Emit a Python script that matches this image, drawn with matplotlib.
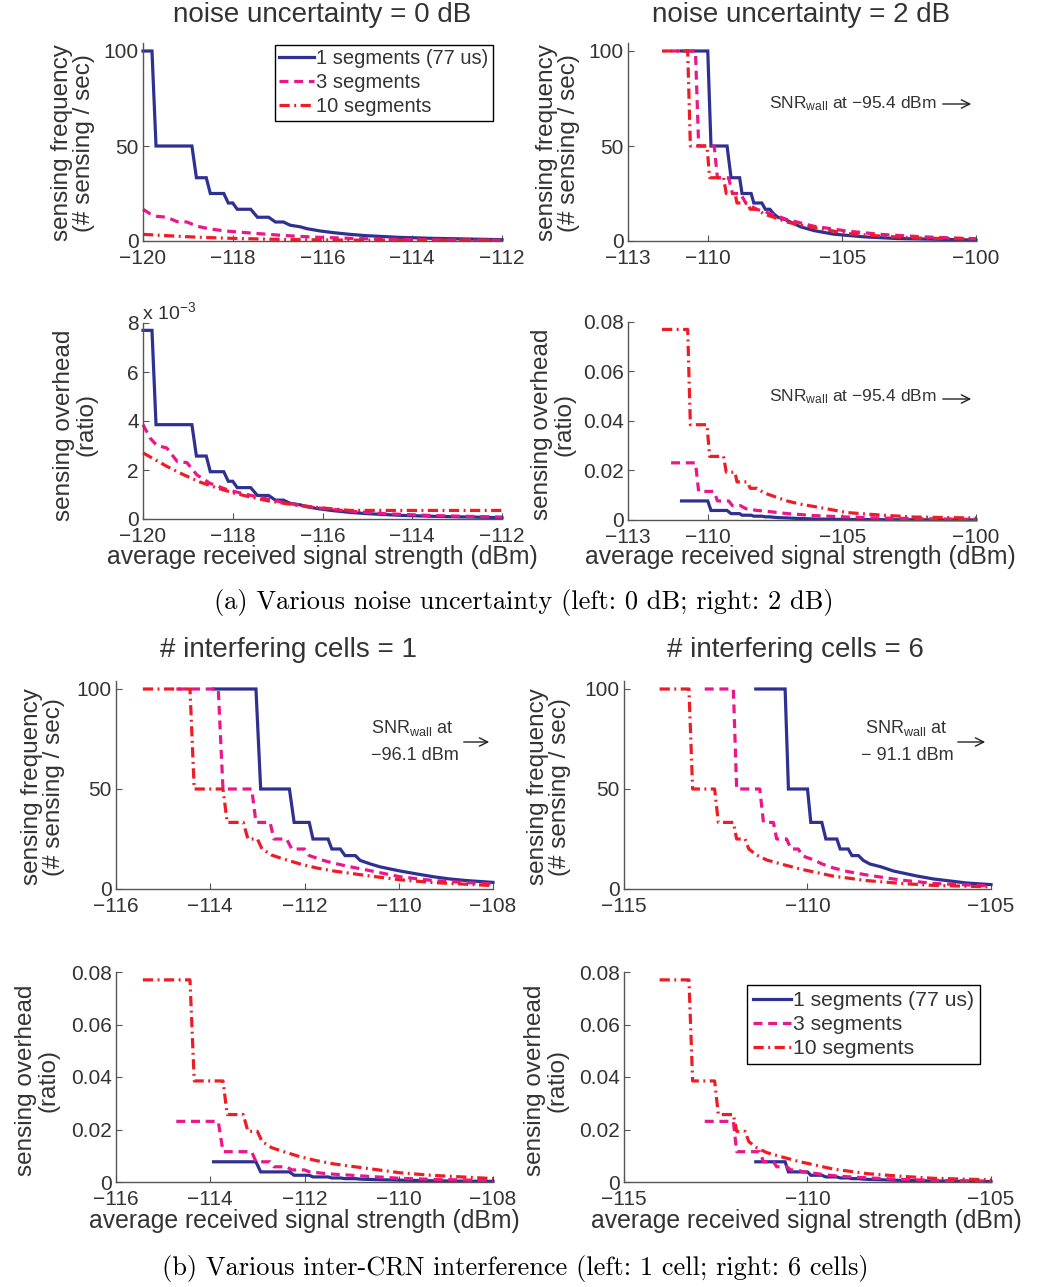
import matplotlib
matplotlib.use("Agg")
import matplotlib.pyplot as plt
from matplotlib.ticker import FixedLocator, FuncFormatter

# ---------------- data ----------------
series_labels = ["1 segments (77 us)", "3 segments", "10 segments"]

# (a) noise uncertainty = 0 dB
nu0_x_blue = [-120, -119.8, -119.71, -118.91, -118.81, -118.59, -118.5, -118.2, -118.1, -118.0,
              -117.9, -117.6, -117.45, -117.2, -117.05, -116.87, -116.72, -116.5, -116.35,
              -116.06, -115.76, -115.39, -115.02, -114.28, -113.54, -112]
nu0_freq_blue = [100, 100, 50, 50, 33.3, 33.3, 25, 25, 20, 20, 16.7, 16.7, 12.5, 12.5, 10, 10,
                 8.3, 7.5, 6.5, 5.3, 4.4, 3.5, 2.8, 1.9, 1.4, 0.7]
nu0_oh_blue_e3 = [7.7, 7.7, 3.85, 3.85, 2.57, 2.57, 1.93, 1.93, 1.54, 1.54, 1.28, 1.28, 0.96, 0.96,
                  0.77, 0.77, 0.64, 0.58, 0.5, 0.41, 0.34, 0.27, 0.22, 0.15, 0.11, 0.054]
nu0_x_pink = [-120, -119.84, -119.69, -119.47, -119.24, -119.02, -118.8, -118.5, -118.13, -117.76,
              -117.24, -116.87, -116.13, -115.39, -114.65, -113.54, -112]
nu0_freq_pink = [16.7, 14.3, 13.0, 12.5, 10.2, 10.0, 7.8, 6.3, 5.2, 4.5, 3.55, 2.9, 2.0, 1.4,
                 0.95, 0.6, 0.35]
nu0_oh_pink_e3 = [3.85, 3.3, 3.0, 2.9, 2.35, 2.3, 1.8, 1.45, 1.2, 1.03, 0.82, 0.67, 0.46, 0.32,
                  0.22, 0.14, 0.08]
nu0_x_red = [-120, -119.47, -119.1, -118.72, -118.35, -117.98, -117.61, -117.24, -116.5, -115.76,
             -115.39, -112]
nu0_freq_red = [3.5, 2.8, 2.35, 1.95, 1.65, 1.38, 1.17, 0.97, 0.7, 0.53, 0.46, 0.46]
nu0_oh_red_e3 = [2.7, 2.15, 1.81, 1.5, 1.27, 1.06, 0.9, 0.75, 0.54, 0.41, 0.35, 0.35]

# (a) noise uncertainty = 2 dB
nu2_x_blue = [-111.0, -110.02, -109.9, -109.3, -109.15, -108.83, -108.74, -108.4, -108.3, -108.0,
              -107.87, -107.7, -107.56, -107.4, -107.1, -106.56, -106.06, -105.32, -104.2,
              -102.95, -100]
nu2_freq_blue = [100, 100, 50, 50, 33.3, 33.3, 25, 25, 20, 20, 16.7, 16.7, 14.3, 12.5, 11.1, 7.5,
                 5.5, 3.6, 2.2, 1.3, 0.5]
nu2_oh_blue = [0.0077, 0.0077, 0.00385, 0.00385, 0.00257, 0.00257, 0.00193, 0.00193, 0.00154,
               0.00154, 0.00128, 0.00128, 0.0011, 0.00096, 0.00085, 0.00058, 0.00042, 0.00028,
               0.00017, 0.0001, 0.00004]
nu2_x_pink = [-111.39, -110.48, -110.36, -109.78, -109.66, -109.24, -109.1, -108.8, -108.6,
              -108.2, -107.8, -107.06, -106.06, -104.8, -103.57, -102, -100]
nu2_freq_pink = [100, 100, 50, 50, 33.3, 33.3, 25, 25, 20, 16.7, 15, 11.3, 7.8, 5.2, 3.5, 2.2, 1.2]
nu2_oh_pink = [0.0231, 0.0231, 0.01155, 0.01155, 0.0077, 0.0077, 0.0058, 0.0058, 0.0046, 0.0039,
               0.0035, 0.0026, 0.0018, 0.0012, 0.0008, 0.0005, 0.0003]
nu2_x_red = [-111.73, -110.77, -110.67, -110.05, -109.95, -109.43, -109.33, -109.0, -108.93,
             -108.55, -108.43, -108.18, -107.93, -107.56, -107.06, -106.56, -105.81, -104.82,
             -103.57, -102.33, -100]
nu2_freq_red = [100, 100, 50, 50, 33.3, 33.3, 25, 25, 20, 20, 16.7, 16.7, 14.3, 12.5, 10, 8.3,
                6.5, 3.9, 2.6, 1.6, 1.0]
nu2_oh_red = [0.077, 0.077, 0.0385, 0.0385, 0.0257, 0.0257, 0.0193, 0.0193, 0.0154, 0.0154,
              0.0128, 0.0128, 0.011, 0.0096, 0.0077, 0.0064, 0.005, 0.003, 0.002, 0.0012, 0.0008]

# (b) 1 interfering cell
c1_x_blue = [-113.93, -113.03, -112.93, -112.32, -112.22, -111.9, -111.82, -111.5, -111.42,
             -111.24, -111.14, -110.92, -110.82, -110.6, -110.4, -110.18, -109.97, -109.61,
             -109.26, -108.91, -108.55, -108.0]
c1_freq_blue = [100, 100, 50, 50, 33.3, 33.3, 25, 25, 20, 20, 16.7, 16.7, 14.3, 12.5, 11.1, 10, 9,
                7.5, 6.1, 5.0, 4.2, 3.3]
c1_oh_blue = [0.0077, 0.0077, 0.00385, 0.00385, 0.00257, 0.00257, 0.00193, 0.00193, 0.00154,
              0.00154, 0.00128, 0.00128, 0.0011, 0.00096, 0.00085, 0.00077, 0.00069, 0.00058,
              0.00047, 0.00039, 0.00032, 0.00025]
c1_x_pink = [-114.72, -113.83, -113.73, -113.12, -113.03, -112.73, -112.65, -112.38, -112.27,
             -112.0, -111.9, -111.6, -111.4, -111.03, -110.68, -109.97, -109.26, -108.55, -108.0]
c1_freq_pink = [100, 100, 50, 50, 33.3, 33.3, 25, 25, 20, 20, 16.7, 14.3, 13.0, 11.1, 9.5, 6.1,
                4.2, 3.2, 2.5]
c1_oh_pink = [0.0231, 0.0231, 0.01155, 0.01155, 0.0077, 0.0077, 0.0058, 0.0058, 0.0046, 0.0046,
              0.0039, 0.0033, 0.003, 0.0026, 0.0022, 0.0014, 0.001, 0.00074, 0.00058]
c1_x_red = [-115.43, -114.43, -114.34, -113.73, -113.64, -113.3, -113.2, -113.0, -112.9, -112.7,
            -112.45, -112.09, -111.74, -111.38, -110.68, -109.97, -109.26, -108.0]
c1_freq_red = [100, 100, 50, 50, 33.3, 33.3, 25, 25, 20, 17, 15, 12.5, 10.5, 9.0, 6.7, 4.6, 3.2,
               1.7]
c1_oh_red = [0.077, 0.077, 0.0385, 0.0385, 0.0257, 0.0257, 0.0193, 0.0193, 0.0154, 0.0131, 0.0116,
             0.0096, 0.0081, 0.0069, 0.0052, 0.0035, 0.0025, 0.0013]

# (b) 6 interfering cells
c6_x_blue = [-111.41, -110.61, -110.52, -110.0, -109.91, -109.61, -109.5, -109.2, -109.11,
             -108.89, -108.79, -108.61, -108.48, -108.3, -108.0, -107.66, -107.02, -106.56,
             -105.66, -105.0]
c6_freq_blue = [100, 100, 50, 50, 33.3, 33.3, 25, 25, 20, 20, 16.7, 16.7, 14.3, 12.5, 11.1, 9.0,
                6.5, 5.0, 3.0, 2.2]
c6_oh_blue = [0.0077, 0.0077, 0.00385, 0.00385, 0.00257, 0.00257, 0.00193, 0.00193, 0.00154,
              0.00154, 0.00128, 0.00128, 0.0011, 0.00096, 0.00085, 0.00069, 0.0005, 0.00039,
              0.00023, 0.00017]
c6_x_pink = [-112.8, -112.02, -111.93, -111.3, -111.2, -110.93, -110.84, -110.57, -110.45,
             -110.25, -110.15, -109.8, -109.6, -109.29, -108.9, -108.38, -107.47, -106.57, -105.0]
c6_freq_pink = [100, 100, 50, 50, 33.3, 33.3, 25, 25, 20, 20, 16.7, 14.3, 12.5, 10.5, 8.7, 7.0,
                4.5, 2.8, 1.5]
c6_oh_pink = [0.0231, 0.0231, 0.01155, 0.01155, 0.0077, 0.0077, 0.0058, 0.0058, 0.0046, 0.0046,
              0.0039, 0.0033, 0.0029, 0.0024, 0.002, 0.0016, 0.001, 0.00065, 0.00035]
c6_x_red = [-114.03, -113.23, -113.13, -112.53, -112.43, -112.02, -111.93, -111.7, -111.6, -111.39,
            -111.11, -110.66, -110.2, -109.29, -108.38, -107.47, -106.57, -105.0]
c6_freq_red = [100, 100, 50, 50, 33.3, 33.3, 25, 25, 20, 17, 14.5, 12.2, 10, 6.4, 4.2, 2.8, 1.8,
               1.1]
c6_oh_red = [0.077, 0.077, 0.0385, 0.0385, 0.0257, 0.0257, 0.0193, 0.0193, 0.0154, 0.0131, 0.0112,
             0.0094, 0.0077, 0.0049, 0.0032, 0.0022, 0.0014, 0.00085]

# tick labels
xt_nu0 = [-120, -118, -116, -114, -112]
xt_nu2 = [-113, -110, -105, -100]
xt_c1 = [-116, -114, -112, -110, -108]
xt_c6 = [-115, -110, -105]
yt_freq = [0, 50, 100]
yt_oh_e3 = [0, 2, 4, 6, 8]
yt_oh = [0, 0.02, 0.04, 0.06, 0.08]

# ---------------- style ----------------
W, H = 1039, 1287
plt.rcParams['font.family'] = ['Liberation Sans', 'DejaVu Sans']
plt.rcParams['mathtext.fontset'] = 'custom'
plt.rcParams['mathtext.rm'] = 'Liberation Sans'
plt.rcParams['mathtext.it'] = 'Liberation Sans'
plt.rcParams['axes.unicode_minus'] = True

C_BLUE = '#2e3192'
C_PINK = '#ec168c'
C_RED = '#ee1c25'
TXT = '#333333'
LW = 2.3

fig = plt.figure(figsize=(W / 100, H / 100), dpi=100)


def px(x, y):
    return (x / W, 1 - y / H)


def add_ax(l, r, t, b):
    return fig.add_axes([l / W, 1 - b / H, (r - l) / W, (b - t) / H])


def style(ax, xlim, xticks, ylim, yticks, yfmt=None):
    for s in ('top', 'right'):
        ax.spines[s].set_visible(False)
    for s in ('left', 'bottom'):
        ax.spines[s].set_color('#555555')
        ax.spines[s].set_linewidth(1.0)
    ax.set_xlim(*xlim)
    ax.set_ylim(*ylim)
    ax.xaxis.set_major_locator(FixedLocator(xticks))
    ax.yaxis.set_major_locator(FixedLocator(yticks))
    if yfmt is not None:
        ax.yaxis.set_major_formatter(FuncFormatter(yfmt))
    ax.tick_params(direction='in', length=4, width=0.8, labelsize=15, colors='#555555',
                   labelcolor=TXT, pad=3)
    ax.tick_params(axis='x', pad=6)
    ax.patch.set_alpha(0)


def draw(ax, xb, yb, xp, yp, xr, yr):
    lb, = ax.plot(xb, yb, color=C_BLUE, lw=LW, solid_joinstyle='miter', clip_on=False,
                  label=series_labels[0])
    lp, = ax.plot(xp, yp, color=C_PINK, lw=LW, dashes=(2.8, 1.8), clip_on=False,
                  label=series_labels[1])
    lr, = ax.plot(xr, yr, color=C_RED, lw=LW, dashes=(3.2, 1.4, 0.6, 1.4), clip_on=False,
                  label=series_labels[2])
    return [lb, lp, lr]


def ylab(x, y, s):
    fig.text(*px(x, y), s, rotation=90, ha='center', va='center', fontsize=17.5,
             color=TXT, linespacing=1.05, multialignment='center')


def title(x, y, s):
    fig.text(*px(x, y), s, ha='center', va='center', fontsize=20, color=TXT)


def xlab(x, y, s):
    fig.text(*px(x, y), s, ha='center', va='center', fontsize=17.8, color=TXT)


def arrow(x0, x1, y):
    fig.add_artist(matplotlib.patches.FancyArrowPatch(
        px(x0, y), px(x1, y), transform=fig.transFigure, arrowstyle='->,head_length=6,head_width=3',
        lw=1.0, color='#222222', mutation_scale=1))


def fmt_plain(v, p):
    return '0' if v == 0 else f'{v:g}'


def legend(ax, handles, anchor, fs, ls, bp, hl):
    lg = ax.legend(handles=handles, loc='upper left', bbox_to_anchor=px(*anchor),
                   bbox_transform=fig.transFigure, frameon=True, fancybox=False, framealpha=1,
                   edgecolor='black', borderpad=bp, handlelength=hl, handletextpad=0.12,
                   labelspacing=ls, borderaxespad=0, fontsize=fs)
    lg.get_frame().set_linewidth(1.0)
    for t in lg.get_texts():
        t.set_color(TXT)
    return lg


SNR_FULL = 'SNR$_{\\mathregular{wall}}$ at \u221295.4 dBm'
SNR_AT = 'SNR$_{\\mathregular{wall}}$ at'

# ---- panel 1 ----
ax1 = add_ax(143, 502, 43.4, 241)
style(ax1, (-120, -112), xt_nu0, (0, 104), yt_freq)
h = draw(ax1, nu0_x_blue, nu0_freq_blue, nu0_x_pink, nu0_freq_pink, nu0_x_red, nu0_freq_red)
legend(ax1, h, (275, 45), 14.5, 0.24, 0.22, 1.7)
title(322, 15, 'noise uncertainty = 0 dB')
ylab(73, 143, 'sensing frequency\n(# sensing / sec)')

# ---- panel 2 ----
ax2 = add_ax(628, 976, 43.4, 241)
style(ax2, (-113, -100), xt_nu2, (0, 104), yt_freq)
draw(ax2, nu2_x_blue, nu2_freq_blue, nu2_x_pink, nu2_freq_pink, nu2_x_red, nu2_freq_red)
title(801, 15, 'noise uncertainty = 2 dB')
ylab(558, 143, 'sensing frequency\n(# sensing / sec)')
fig.text(*px(769, 104), SNR_FULL, ha='left', va='center', fontsize=12.5, color=TXT)
arrow(940, 974, 104)

# ---- panel 3 ----
ax3 = add_ax(143, 502, 323, 519)
style(ax3, (-120, -112), xt_nu0, (0, 8), yt_oh_e3, fmt_plain)
draw(ax3, nu0_x_blue, nu0_oh_blue_e3, nu0_x_pink, nu0_oh_pink_e3, nu0_x_red, nu0_oh_red_e3)
fig.text(*px(142, 312), 'x 10$^{\\mathregular{\u22123}}$', ha='left', va='center',
         fontsize=14, color=TXT)
ylab(75, 425, 'sensing overhead\n(ratio)')
xlab(322, 557, 'average received signal strength (dBm)')

# ---- panel 4 ----
ax4 = add_ax(628, 976, 322, 520)
style(ax4, (-113, -100), xt_nu2, (0, 0.08), yt_oh, fmt_plain)
draw(ax4, nu2_x_blue, nu2_oh_blue, nu2_x_pink, nu2_oh_pink, nu2_x_red, nu2_oh_red)
ylab(553, 424, 'sensing overhead\n(ratio)')
xlab(800, 557, 'average received signal strength (dBm)')
fig.text(*px(769, 397), SNR_FULL, ha='left', va='center', fontsize=12.5, color=TXT)
arrow(940, 974, 399)

fig.text(*px(524, 603), '(a) Various noise uncertainty (left: 0 dB; right: 2 dB)',
         ha='center', va='center', fontsize=19, family=['cmr10', 'DejaVu Serif'], color='black')

# ---- panel 5 ----
ax5 = add_ax(116, 493, 681, 889)
style(ax5, (-116, -108), xt_c1, (0, 104), yt_freq)
draw(ax5, c1_x_blue, c1_freq_blue, c1_x_pink, c1_freq_pink, c1_x_red, c1_freq_red)
title(289, 650, '# interfering cells = 1')
ylab(43, 787, 'sensing frequency\n(# sensing / sec)')
fig.text(*px(371, 728), SNR_AT, ha='left', va='center', fontsize=13, color=TXT)
fig.text(*px(371, 756), '\u221296.1 dBm', ha='left', va='center', fontsize=13, color=TXT)
arrow(461, 492, 742)

# ---- panel 6 ----
ax6 = add_ax(624, 991, 681, 889)
style(ax6, (-115, -105), xt_c6, (0, 104), yt_freq)
draw(ax6, c6_x_blue, c6_freq_blue, c6_x_pink, c6_freq_pink, c6_x_red, c6_freq_red)
title(795, 650, '# interfering cells = 6')
ylab(549, 787, 'sensing frequency\n(# sensing / sec)')
fig.text(*px(865, 728), SNR_AT, ha='left', va='center', fontsize=13, color=TXT)
fig.text(*px(861, 756), '\u2212 91.1 dBm', ha='left', va='center', fontsize=13, color=TXT)
arrow(955, 988, 742)

# ---- panel 7 ----
ax7 = add_ax(116, 493, 972, 1182)
style(ax7, (-116, -108), xt_c1, (0, 0.08), yt_oh, fmt_plain)
draw(ax7, c1_x_blue, c1_oh_blue, c1_x_pink, c1_oh_pink, c1_x_red, c1_oh_red)
ylab(37, 1080, 'sensing overhead\n(ratio)')
xlab(304, 1221, 'average received signal strength (dBm)')

# ---- panel 8 ----
ax8 = add_ax(624, 991, 972, 1182)
style(ax8, (-115, -105), xt_c6, (0, 0.08), yt_oh, fmt_plain)
h8 = draw(ax8, c6_x_blue, c6_oh_blue, c6_x_pink, c6_oh_pink, c6_x_red, c6_oh_red)
legend(ax8, h8, (747, 985), 15.2, 0.25, 0.28, 1.8)
ylab(546, 1080, 'sensing overhead\n(ratio)')
xlab(806, 1221, 'average received signal strength (dBm)')

fig.text(*px(515, 1268), '(b) Various inter-CRN interference (left: 1 cell; right: 6 cells)',
         ha='center', va='center', fontsize=19, family=['cmr10', 'DejaVu Serif'], color='black')

fig.savefig('out.png', dpi=100)
